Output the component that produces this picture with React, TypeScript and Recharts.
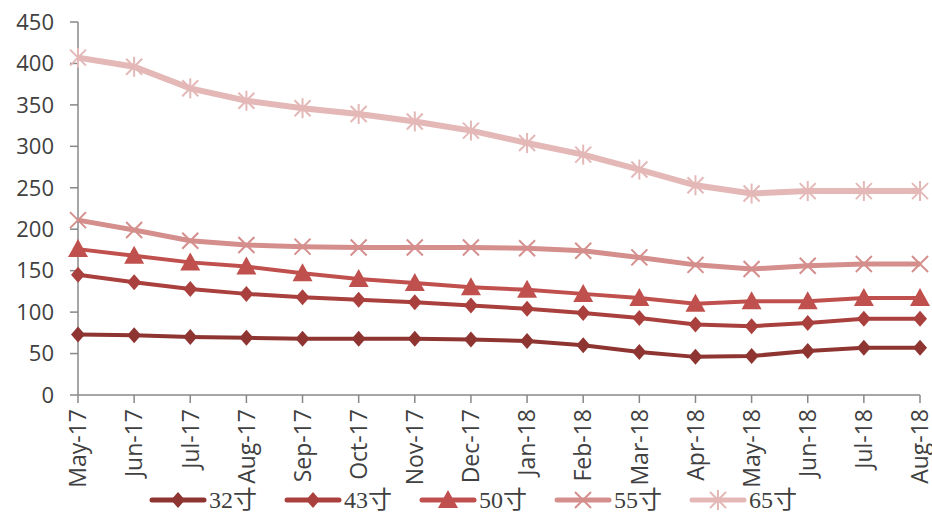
import { LineChart, Line, XAxis, YAxis } from "recharts";

const months = [
  "May-17", "Jun-17", "Jul-17", "Aug-17", "Sep-17", "Oct-17", "Nov-17", "Dec-17",
  "Jan-18", "Feb-18", "Mar-18", "Apr-18", "May-18", "Jun-18", "Jul-18", "Aug-18",
];

const s32 = [73, 72, 70, 69, 68, 68, 68, 67, 65, 60, 52, 46, 47, 53, 57, 57];
const s43 = [145, 136, 128, 122, 118, 115, 112, 108, 104, 99, 93, 85, 83, 87, 92, 92];
const s50 = [176, 168, 160, 155, 147, 140, 135, 130, 127, 122, 117, 110, 113, 113, 117, 117];
const s55 = [211, 199, 186, 181, 179, 178, 178, 178, 177, 174, 166, 157, 152, 156, 158, 158];
const s65 = [407, 396, 370, 355, 346, 339, 330, 319, 304, 290, 272, 253, 243, 246, 246, 246];

const yTicks = [0, 50, 100, 150, 200, 250, 300, 350, 400, 450];

type Marker = "diamond" | "triangle" | "cross" | "star";

const series: { key: string; name: string; color: string; width: number; marker: Marker }[] = [
  { key: "s32", name: "32寸", color: "#8E3532", width: 4, marker: "diamond" },
  { key: "s43", name: "43寸", color: "#A9403D", width: 4, marker: "diamond" },
  { key: "s50", name: "50寸", color: "#C0504D", width: 4, marker: "triangle" },
  { key: "s55", name: "55寸", color: "#D48F8D", width: 5, marker: "cross" },
  { key: "s65", name: "65寸", color: "#E3B8B7", width: 6, marker: "star" },
];

const data = months.map((m, i) => ({
  month: m,
  s32: s32[i],
  s43: s43[i],
  s50: s50[i],
  s55: s55[i],
  s65: s65[i],
}));

const drawMarker = (marker: Marker, cx: number, cy: number, color: string) => {
  if (marker === "diamond") {
    return (
      <path
        d={`M${cx},${cy - 8} L${cx + 7},${cy} L${cx},${cy + 8} L${cx - 7},${cy} Z`}
        fill={color}
      />
    );
  }
  if (marker === "triangle") {
    return (
      <path
        d={`M${cx},${cy - 10} L${cx + 10},${cy + 8} L${cx - 10},${cy + 8} Z`}
        fill={color}
      />
    );
  }
  if (marker === "cross") {
    return (
      <g stroke={color} strokeWidth={2}>
        <line x1={cx - 8} y1={cy - 8} x2={cx + 8} y2={cy + 8} />
        <line x1={cx - 8} y1={cy + 8} x2={cx + 8} y2={cy - 8} />
      </g>
    );
  }
  return (
    <g stroke={color} strokeWidth={2}>
      <line x1={cx - 8} y1={cy - 8} x2={cx + 8} y2={cy + 8} />
      <line x1={cx - 8} y1={cy + 8} x2={cx + 8} y2={cy - 8} />
      <line x1={cx} y1={cy - 10} x2={cx} y2={cy + 10} />
    </g>
  );
};

const makeDot = (marker: Marker, color: string) => (props: any) => {
  const { cx, cy, index } = props;
  if (cx == null || cy == null) return <g key={index} />;
  return <g key={index}>{drawMarker(marker, cx, cy, color)}</g>;
};

const XTick = (props: any) => {
  const { x, y, payload } = props;
  return (
    <g transform={`translate(${x},${y + 4}) rotate(-90)`}>
      <text
        textAnchor="end"
        dy="0.36em"
        fill="#404040"
        fontSize={23}
        fontFamily="'Open Sans', 'Noto Sans', sans-serif"
      >
        {payload.value}
      </text>
    </g>
  );
};

const App = () => {
  return (
    <div style={{ position: "absolute", left: 0, top: 0, width: 932, height: 514, background: "#fff", overflow: "hidden" }}>
      <LineChart
        width={932}
        height={514}
        data={data}
        margin={{ top: 22, right: 12, bottom: 39, left: 8 }}
      >
        <XAxis
          dataKey="month"
          interval={0}
          height={80}
          tick={<XTick />}
          tickSize={8}
          stroke="#888888"
          strokeWidth={1.5}
        />
        <YAxis
          domain={[0, 450]}
          ticks={yTicks}
          width={70}
          tickSize={8}
          tickMargin={16}
          stroke="#888888"
          strokeWidth={1.5}
          tick={{ fill: "#404040", fontSize: 22, fontFamily: "'Open Sans', 'Noto Sans', sans-serif" }}
          interval={0}
        />
        {series.map((s) => (
          <Line
            key={s.key}
            dataKey={s.key}
            name={s.name}
            stroke={s.color}
            strokeWidth={s.width}
            isAnimationActive={false}
            dot={makeDot(s.marker, s.color)}
            activeDot={false}
          />
        ))}
      </LineChart>
      <div
        style={{
          position: "absolute",
          left: 149,
          top: 487,
          display: "flex",
          gap: 27,
          fontFamily: "'Liberation Serif', 'Noto Sans CJK SC', serif",
          fontSize: 24,
          lineHeight: "26px",
          color: "#404040",
        }}
      >
        {series.map((s) => (
          <div key={s.key} style={{ display: "flex", alignItems: "center", gap: 2 }}>
            <svg width={58} height={24}>
              <line
                x1={3}
                y1={12}
                x2={55}
                y2={12}
                stroke={s.color}
                strokeWidth={5}
                strokeLinecap="round"
              />
              {drawMarker(s.marker, 29, 12, s.color)}
            </svg>
            <span>{s.name}</span>
          </div>
        ))}
      </div>
    </div>
  );
};

export default App;
